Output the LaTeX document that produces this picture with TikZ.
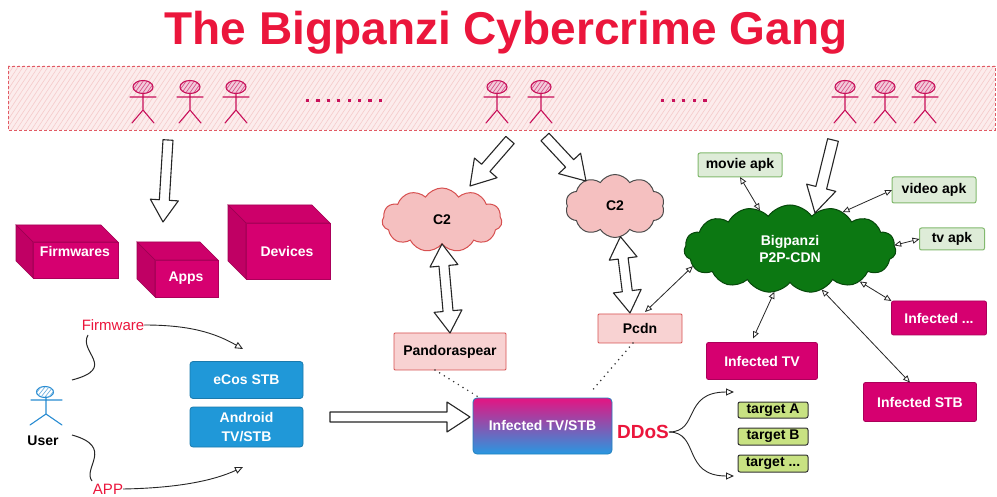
\documentclass[tikz,border=0pt]{standalone}
\usepackage{fontspec}
\setmainfont{Liberation Sans}
\usetikzlibrary{arrows.meta,calc,shapes.symbols}

\definecolor{titlered}{RGB}{235,22,60}
\definecolor{gang}{RGB}{200,16,90}
\definecolor{bannerfill}{RGB}{252,236,236}
\definecolor{bannerhatch}{RGB}{245,203,203}
\definecolor{bannerborder}{RGB}{225,90,100}
\definecolor{mag}{RGB}{214,0,112}
\definecolor{magtop}{RGB}{205,0,106}
\definecolor{magside}{RGB}{192,0,100}
\definecolor{stbblue}{RGB}{32,152,216}
\definecolor{c2pink}{RGB}{245,192,192}
\definecolor{c2edge}{RGB}{215,80,80}
\definecolor{boxpink}{RGB}{248,210,210}
\definecolor{cdngreen}{RGB}{12,120,18}
\definecolor{apkfill}{RGB}{222,236,216}
\definecolor{apkedge}{RGB}{130,185,110}
\definecolor{targetfill}{RGB}{200,226,130}
\definecolor{userblue}{RGB}{40,140,210}
\definecolor{gradtop}{RGB}{228,20,130}
\definecolor{gradbot}{RGB}{40,152,225}

% hollow single-headed arrow: start, tip, body half width, head half width, head length
\newcommand\hollowarr[5]{%
  \coordinate (ha-c) at ($(#2)!#5!(#1)$);
  \draw[hollow] ($(#1)!#3!90:(#2)$) -- ($(ha-c)!#3!90:(#2)$) -- ($(ha-c)!#4!90:(#2)$)
    -- (#2) -- ($(ha-c)!#4!-90:(#2)$) -- ($(ha-c)!#3!-90:(#2)$) -- ($(#1)!#3!-90:(#2)$) -- cycle;
}
% hollow double-headed arrow
\newcommand\hollowdarr[5]{%
  \coordinate (hd-a) at ($(#1)!#5!(#2)$);
  \coordinate (hd-b) at ($(#2)!#5!(#1)$);
  \draw[hollow] (#1) -- ($(hd-a)!#4!90:(#2)$) -- ($(hd-a)!#3!90:(#2)$) -- ($(hd-b)!#3!-90:(#1)$)
    -- ($(hd-b)!#4!-90:(#1)$) -- (#2) -- ($(hd-b)!#4!90:(#1)$) -- ($(hd-b)!#3!90:(#1)$)
    -- ($(hd-a)!#3!-90:(#2)$) -- ($(hd-a)!#4!-90:(#2)$) -- cycle;
}
% box drawn in perspective: front face x0,y0,x1,y1 and depth
\newcommand\pinkcube[5]{%
  \fill[magtop, draw=magtop!80!black, line width=0.6pt] (#1-#5,#2-#5) -- (#3-#5,#2-#5) -- (#3,#2) -- (#1,#2) -- cycle;
  \fill[magside, draw=magside!80!black, line width=0.6pt] (#1-#5,#2-#5) -- (#1,#2) -- (#1,#4) -- (#1-#5,#4-#5) -- cycle;
  \fill[mag, draw=mag!80!black, line width=0.6pt] (#1,#2) rectangle (#3,#4);
}

\tikzset{
  hollow/.style={draw=black!85, fill=white, line width=1.1pt, line join=round},
  bx/.style={font=\fontsize{14}{16}\selectfont\bfseries},
  magbox/.style={bx, fill=mag, draw=mag!80!black, line width=0.8pt, text=white, rounded corners=2pt},
  bluebox/.style={bx, fill=stbblue, draw=stbblue!80!black, line width=0.8pt, text=white, rounded corners=3pt, align=center},
  pinkbox/.style={bx, fill=boxpink, draw=c2edge, line width=0.9pt, rounded corners=1pt},
  apkbox/.style={bx, fill=apkfill, draw=apkedge, line width=1pt, rounded corners=2pt},
  targetbox/.style={bx, fill=targetfill, draw=black!80, line width=1pt, rounded corners=2pt},
  link/.style={draw=black!85, line width=0.8pt, {Triangle[open,length=7pt,width=6pt]}-{Triangle[open,length=7pt,width=6pt]}},
  tip/.style={draw=black!85, line width=0.9pt, -{Triangle[open,length=8pt,width=7pt]}},
  squiggle/.style={draw=black!85, line width=1pt},
  dots/.style={draw=black!80, line width=1.7pt, line cap=round, dash pattern=on 0pt off 5.5pt},
  redlabel/.style={text=titlered, font=\fontsize{15}{17}\selectfont},
  pics/stickman/.style={code={
    \begin{scope}
      \clip (0,-10) ellipse (10 and 6.5);
      \fill[#1!22] (-11,-17) rectangle (11,-3);
      \foreach \k in {-16,-12,...,16} \draw[#1!70, line width=0.7pt] (\k-5,-3) -- (\k+5,-17);
    \end{scope}
    \draw[#1, line width=1.1pt] (0,-10) ellipse (10 and 6.5);
    \draw[#1, line width=1.1pt, line cap=round] (-13,0) -- (13,0) (0,-3.5) -- (0,13) (-11,26) -- (0,13) -- (11,26);
  }}
}

\begin{document}
\begin{tikzpicture}[x=1pt,y=-1pt, every node/.style={inner sep=0pt, outer sep=0pt}]
\useasboundingbox (0,0) rectangle (997,497);
\fill[white] (0,0) rectangle (997,497);

% title
\node[text=titlered, font=\fontsize{46}{50}\selectfont\bfseries] (title) at (506,33) {The Bigpanzi Cybercrime Gang};

% gang banner
\fill[bannerfill] (8,66) rectangle (995,130);
\begin{scope}
  \clip (8,66) rectangle (995,130);
  \foreach \k in {-60,-55,...,1000} \draw[bannerhatch, line width=0.6pt] (\k,132) -- (\k+45,64);
\end{scope}
\draw[bannerborder, line width=0.9pt, dash pattern=on 3pt off 2pt] (8,66) rectangle (995,130);
\foreach \gx in {143,190,236,497,541,845,885,925}
  \pic at (\gx,97) {stickman=gang};
\foreach \k in {0,...,7} \fill[gang] (306+\k*10.4,99) rectangle ++(3.2,3.2);
\foreach \k in {0,...,4} \fill[gang] (661+\k*10.6,99) rectangle ++(3.2,3.2);

% perspective boxes
\pinkcube{33}{242}{118}{278}{17}
\pinkcube{155}{260}{218}{297}{18}
\pinkcube{246}{223}{330}{279}{18}
\node[bx, text=white] (firmwares) at (75,251) {Firmwares};
\node[bx, text=white] (apps) at (186,278) {Apps};
\node[bx, text=white] (devices) at (287,251) {Devices};

% clouds
\node[cloud, cloud puffs=11, cloud puff arc=115, cloud ignores aspect, minimum width=120pt, minimum height=64pt,
      fill=c2pink, draw=c2edge, line width=1pt, bx] (c2l) at (442,220) {C2};
\node[cloud, cloud puffs=10, cloud puff arc=115, cloud ignores aspect, minimum width=99pt, minimum height=63pt,
      fill=c2pink, draw=black!70, line width=1pt, bx] (c2r) at (615,206) {C2};
\node[cloud, cloud puffs=15, cloud puff arc=110, cloud ignores aspect, minimum width=212pt, minimum height=88pt,
      fill=cdngreen, draw=cdngreen!60!black, line width=1pt, bx, text=white, align=center,
      font=\fontsize{14}{17}\selectfont\bfseries] (cdn) at (790,249) {Bigpanzi\\P2P-CDN};

% pink boxes
\node[pinkbox, minimum width=112pt, minimum height=37pt] (pandora) at (450,351.5) {Pandoraspear};
\node[pinkbox, minimum width=84pt, minimum height=29pt] (pcdn) at (640,328.5) {Pcdn};

% apk boxes
\node[apkbox, minimum width=84pt, minimum height=24pt] (movie) at (740,165) {movie apk};
\node[apkbox, minimum width=84pt, minimum height=26pt] (video) at (934,190) {video apk};
\node[apkbox, minimum width=65pt, minimum height=22pt] (tvapk) at (952,239) {tv apk};

% infected devices
\node[magbox, minimum width=95pt, minimum height=34pt] (infx) at (939,318) {Infected ...};
\node[magbox, minimum width=111pt, minimum height=37pt] (inftv) at (762,361) {Infected TV};
\node[magbox, minimum width=113pt, minimum height=39pt] (infstb) at (920,402) {Infected STB};

% set-top boxes
\node[bluebox, minimum width=113pt, minimum height=37pt] (ecos) at (246.5,380) {eCos STB};
\node[bluebox, minimum width=113pt, minimum height=40pt, font=\fontsize{14}{19}\selectfont\bfseries] (android) at (246.5,427) {Android\\TV/STB};

% infected tv/stb
\node[bx, text=white, top color=gradtop, bottom color=gradbot, draw=gradbot!85!black, line width=0.8pt,
      rounded corners=4pt, minimum width=139pt, minimum height=56pt] (inf) at (542.5,426) {Infected TV/STB};

% DDoS and targets
\node[text=titlered, font=\fontsize{19}{21}\selectfont\bfseries] (ddos) at (643,432) {DDoS};
\node[targetbox, minimum width=70pt, minimum height=16pt] (ta) at (773,410) {target A};
\node[targetbox, minimum width=70pt, minimum height=17pt] (tb) at (773,436.5) {target B};
\node[targetbox, minimum width=70pt, minimum height=17pt] (tc) at (773,463.5) {target ...};
\coordinate (ddos-up) at (734,392);
\coordinate (ddos-dn) at (734,476);
\draw[tip] (ddos.east) .. controls (700,432) and (682,392) .. (ddos-up);
\draw[tip] (ddos.east) .. controls (700,432) and (682,476) .. (ddos-dn);

% user
\draw[userblue, line width=1.1pt] (45,392) ellipse (8.5 and 5.5);
\begin{scope}
  \clip (45,392) ellipse (8.5 and 5.5);
  \foreach \k in {-12,-8,...,12} \draw[userblue!70, line width=0.7pt] (45+\k-4,397) -- (45+\k+4,387);
\end{scope}
\draw[userblue, line width=1.1pt, line cap=round] (31,400) -- (62,400) (46,397) -- (46,414) (30,425) -- (46,414) -- (62,425);
\node[bx] (user) at (43,441) {User};
\node[redlabel] (fw) at (113,325) {Firmware};
\node[redlabel] (app) at (108,489) {APP};
\coordinate (u-up) at (72,380);
\coordinate (u-dn) at (72,435);
\coordinate (fw-tail) at (88,335);
\coordinate (app-tail) at (92,481);
\draw[squiggle] (u-up) .. controls (118,368) and (78,352) .. (fw-tail);
\draw[squiggle] (u-dn) .. controls (115,447) and (82,468) .. (app-tail);
\coordinate (ecos-in) at (243,349);
\coordinate (android-in) at (243,467);
\draw[tip] (fw.east) .. controls (190,325) and (215,333) .. (ecos-in);
\draw[tip] (app.east) .. controls (180,488) and (215,480) .. (android-in);

% links around the P2P-CDN
\draw[link] (movie.south) -- (cdn.128);
\draw[link] (video.west) -- (cdn.35);
\draw[link] (tvapk.west) -- (cdn.2);
\draw[link] (infx.north west) -- (cdn.-25);
\draw[link] ($(infstb.north)+(-10,0)$) -- (cdn.-52);
\draw[link] ($(inftv.north)+(-9,-4)$) -- (cdn.-110);
\draw[link] ($(pcdn.north east)+(-37,-2)$) -- (cdn.190);

% dotted ties
\draw[dots] ($(pandora.south)+(-15,0)$) -- ($(inf.north west)+(7,0)$);
\draw[dots] ($(pcdn.south)+(-7,0)$) -- ($(inf.north east)+(-22,-5)$);

% broad hollow arrows
\coordinate (b-apps) at (168,140);
\coordinate (apps-in) at (163,222);
\hollowarr{b-apps}{apps-in}{5pt}{14pt}{22pt}
\coordinate (b-c2l) at (510,140);
\coordinate (c2l-in) at (470,186);
\hollowarr{b-c2l}{c2l-in}{5.5pt}{15pt}{24pt}
\coordinate (b-c2r) at (545,137);
\coordinate (c2r-in) at (586,181);
\hollowarr{b-c2r}{c2r-in}{5.5pt}{15pt}{24pt}
\coordinate (b-cdn) at (833,140);
\coordinate (cdn-in) at (815,213);
\hollowarr{b-cdn}{cdn-in}{5.5pt}{15pt}{26pt}
\coordinate (stb-out) at (330,417);
\coordinate (inf-in) at ($(inf.west)+(-3,-9)$);
\hollowarr{stb-out}{inf-in}{5pt}{15pt}{23pt}
\hollowdarr{c2l.south}{pandora.north}{5pt}{14pt}{22pt}
\coordinate (pcdn-top) at ($(pcdn.north)+(-10,-1)$);
\hollowdarr{c2r.-80}{pcdn-top}{5pt}{14pt}{22pt}
\end{tikzpicture}
\end{document}
